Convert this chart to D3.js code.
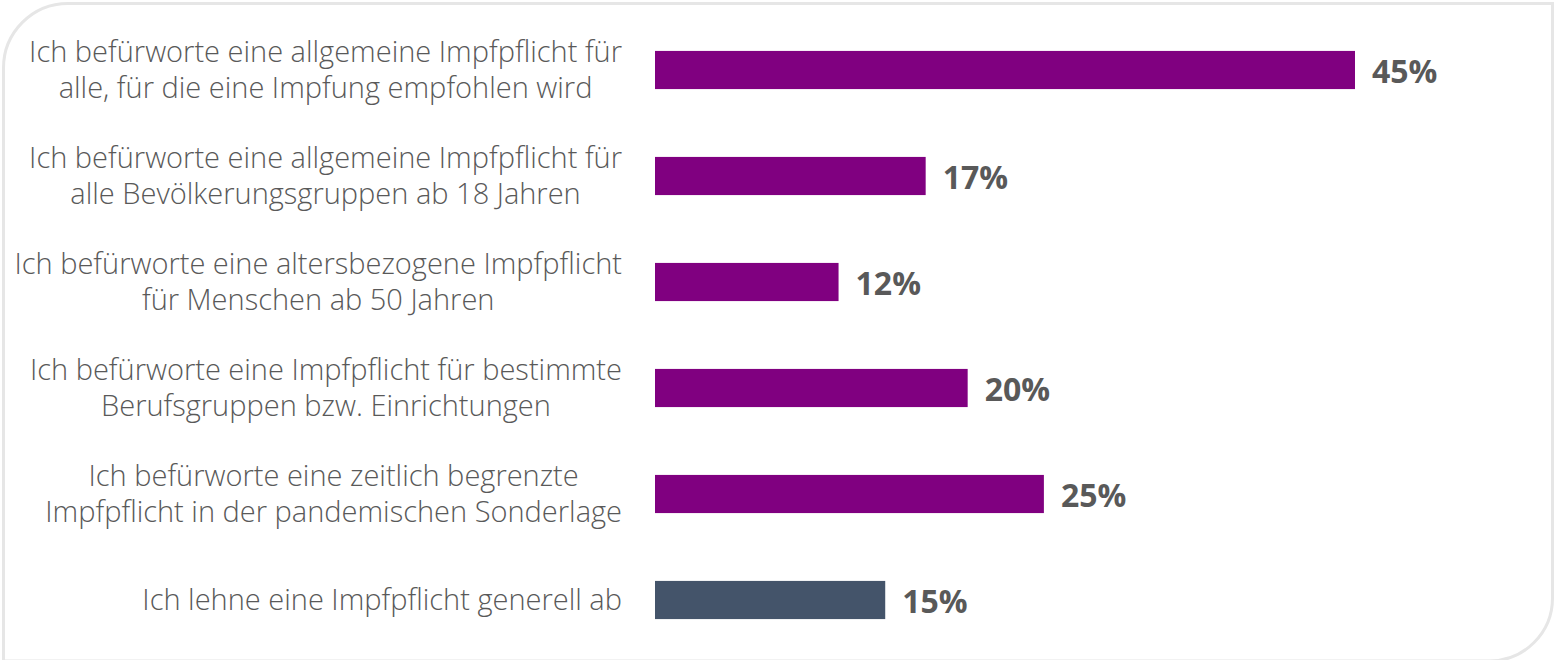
<!DOCTYPE html>
<html>
<head>
<meta charset="utf-8">
<script src="https://cdn.jsdelivr.net/npm/d3@7"></script>
<style>
body { margin: 0; background: #fff; }
.cat-label { font-family: "Open Sans", sans-serif; font-weight: 300; font-size: 29px; fill: #595959; }
.val-label { font-family: "Open Sans", sans-serif; font-weight: 700; font-size: 32px; fill: #595959; }
</style>
</head>
<body>
<div class="chart"></div>
<script>
var width = 1556,
	height = 660,
	barLeft = 655,
	labelRight = 622;

var categories = [
	["Ich befürworte eine allgemeine Impfpflicht für", "alle, für die eine Impfung empfohlen wird"],
	["Ich befürworte eine allgemeine Impfpflicht für", "alle Bevölkerungsgruppen ab 18 Jahren"],
	["Ich befürworte eine altersbezogene Impfpflicht", "für Menschen ab 50 Jahren"],
	["Ich befürworte eine Impfpflicht für bestimmte", "Berufsgruppen bzw. Einrichtungen"],
	["Ich befürworte eine zeitlich begrenzte", "Impfpflicht in der pandemischen Sonderlage"],
	["Ich lehne eine Impfpflicht generell ab"]
];
var values = [45, 17.4, 11.8, 20.1, 25.0, 14.8];
var valueLabels = ["45%", "17%", "12%", "20%", "25%", "15%"];
var colors = ["#800080", "#800080", "#800080", "#800080", "#800080", "#44546a"];

var svg = d3.select('div.chart')
			.append('svg')
			.attr('width', width)
			.attr('height', height);

// frame: rounded top-left and bottom-right, bottom edge runs off the picture
svg.append('path')
	.attr('d', "M3.5,664 L3.5,68 A64.5,64.5 0 0 1 68,3.5 L1552.5,3.5 L1552.5,598 A63,63 0 0 1 1489.5,661 L3.5,661")
	.attr('fill', 'none')
	.attr('stroke', '#e6e6e6')
	.attr('stroke-width', 3);

var x = d3.scaleLinear()
		.domain([0, 45])
		.range([barLeft, 1355]);

var y = d3.scaleBand()
		.domain(d3.range(categories.length))
		.range([17, 653])
		.paddingInner(0.64)
		.paddingOuter(0.32);

var bars = svg.append('g').attr('class', 'bars');

bars.selectAll('rect')
	.data(values)
	.enter()
	.append('rect')
	.attr('x', x(0))
	.attr('y', function(d, i){ return y(i); })
	.attr('width', function(d){ return x(d) - x(0); })
	.attr('height', y.bandwidth())
	.attr('fill', function(d, i){ return colors[i]; });

bars.selectAll('text')
	.data(values)
	.enter()
	.append('text')
	.attr('class', 'val-label')
	.attr('x', function(d){ return x(d) + 17; })
	.attr('y', function(d, i){ return y(i) + y.bandwidth()/2 + 1; })
	.attr('dy', '0.36em')
	.text(function(d, i){ return valueLabels[i]; });

// category labels, each block centred on its widest line
var lineH = 36;
var cats = svg.append('g').attr('class', 'cats');
categories.forEach(function(lines, i){
	var g = cats.append('g');
	var cy = y(i) + y.bandwidth()/2;
	var texts = g.selectAll('text')
		.data(lines)
		.enter()
		.append('text')
		.attr('class', 'cat-label')
		.attr('text-anchor', 'middle')
		.attr('y', function(d, k){ return cy + (k - (lines.length - 1)/2) * lineH; })
		.attr('dy', '0.35em')
		.text(function(d){ return d; });
	var maxW = d3.max(texts.nodes(), function(n){ return n.getComputedTextLength(); });
	texts.attr('x', labelRight - maxW/2);
});
</script>
</body>
</html>
